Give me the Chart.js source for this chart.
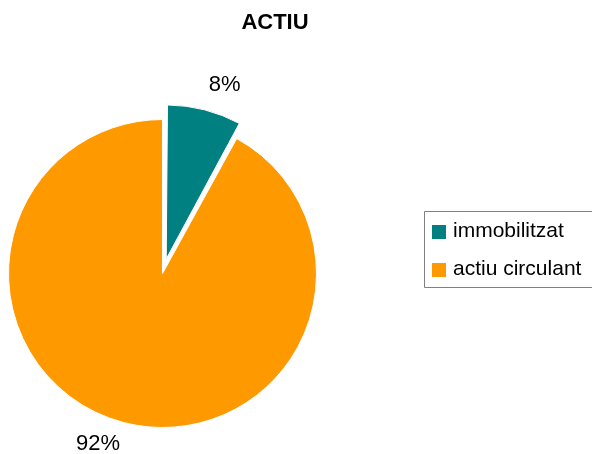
<!DOCTYPE html>
<html>
<head>
<meta charset="utf-8">
<title>ACTIU</title>
<script src="https://cdn.jsdelivr.net/npm/chart.js@4.4.0/dist/chart.umd.min.js"></script>
<style>
  html, body { margin: 0; padding: 0; background: #fff; overflow: hidden; }
  #chart-container { position: relative; width: 592px; height: 454px; }
</style>
</head>
<body>
<div id="chart-container"><canvas id="myChart" width="592" height="454"></canvas></div>
<script>
var chartTitle = 'ACTIU';
var labels = ['immobilitzat', 'actiu circulant'];
var values = [8, 92];
var colors = ['#008080', '#FF9900'];

var FONT = "'Liberation Sans', Arial, sans-serif";

// Chart.js pushes an offset arc out by offset/4 and also grows its radius,
// so pull the radius back to match the other slice
var keepRadius = {
  id: 'keepRadius',
  beforeDatasetsDraw: function(chart) {
    var meta = chart.getDatasetMeta(0);
    var r = meta.controller.outerRadius;
    meta.data.forEach(function(arc) {
      var off = (arc.options.offset || 0) / 4;
      var fix = 1 - Math.sin(Math.min(Math.PI, arc.circumference || 0));
      arc.outerRadius = r - off * fix;
    });
  }
};

// percentage labels outside the slices
var pctLabels = {
  id: 'pctLabels',
  afterDatasetsDraw: function(chart) {
    var ctx = chart.ctx;
    var meta = chart.getDatasetMeta(0);
    var r = meta.controller.outerRadius;
    var total = values.reduce(function(a, b) { return a + b; }, 0);
    ctx.save();
    ctx.font = '22px ' + FONT;
    ctx.fillStyle = '#000';
    ctx.textBaseline = 'middle';
    meta.data.forEach(function(arc, i) {
      var mid = (arc.startAngle + arc.endAngle) / 2;
      var off = (arc.options.offset || 0) / 4;
      var cx = arc.x + Math.cos(mid) * off;
      var cy = arc.y + Math.sin(mid) * off;
      var d = r + 17;
      var ax = cx + Math.cos(mid) * d;
      var ay = cy + Math.sin(mid) * d;
      ctx.textAlign = Math.cos(mid) >= 0 ? 'left' : 'right';
      var ty = ay + (Math.sin(mid) >= 0 ? 5 : -8);
      ctx.fillText(Math.round(values[i] / total * 100) + '%', ax, ty);
    });
    ctx.restore();
  }
};

// title and boxed legend (box runs off the right edge, like the original)
var titleAndLegend = {
  id: 'titleAndLegend',
  afterDraw: function(chart) {
    var ctx = chart.ctx;
    var w = chart.width;
    ctx.save();
    ctx.fillStyle = '#000';
    ctx.font = 'bold 22px ' + FONT;
    ctx.textAlign = 'center';
    ctx.textBaseline = 'alphabetic';
    ctx.fillText(chartTitle, 275, 29);

    ctx.strokeStyle = '#808080';
    ctx.lineWidth = 1;
    ctx.beginPath();
    ctx.moveTo(w, 211.5);
    ctx.lineTo(424.5, 211.5);
    ctx.lineTo(424.5, 287.5);
    ctx.lineTo(w, 287.5);
    ctx.stroke();

    ctx.font = '21px ' + FONT;
    ctx.textAlign = 'left';
    labels.forEach(function(l, i) {
      var y = 225 + i * 38;
      ctx.fillStyle = colors[i];
      ctx.fillRect(432, y, 14, 14);
      ctx.fillStyle = '#000';
      ctx.fillText(l, 453, y + 12);
    });
    ctx.restore();
  }
};

var ctx = document.getElementById('myChart');
var myPieChart = new Chart(ctx, {
  type: 'pie',
  data: {
    labels: labels,
    datasets: [{
      data: values,
      backgroundColor: colors,
      borderColor: '#fff',
      borderWidth: 1,
      offset: [60, 0]
    }]
  },
  options: {
    responsive: false,
    animation: false,
    events: [],
    radius: 154,
    layout: {
      padding: { left: 0, right: 267, top: 110, bottom: 17 }
    },
    plugins: {
      legend: { display: false },
      title: { display: false },
      tooltip: { enabled: false }
    }
  },
  plugins: [keepRadius, pctLabels, titleAndLegend]
});
</script>
</body>
</html>
